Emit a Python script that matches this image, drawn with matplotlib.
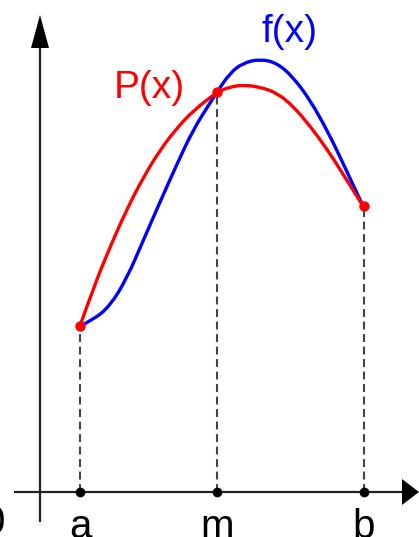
import numpy as np
import matplotlib.pyplot as plt
from matplotlib.path import Path
from matplotlib.patches import PathPatch

# node positions on the x axis and heights above it (picture units)
node_x = [80, 217, 364]
node_y = [166, 400, 286]
node_labels = ['a', 'm', 'b']

# f(x)
f_x = [80, 93, 110, 127, 143, 160, 177, 193, 210, 217, 230, 243, 260, 277, 293, 310, 327, 343, 363]
f_y = [166, 172, 186, 214, 251, 290, 328, 362, 389, 400, 419, 429, 433, 429, 415, 392, 362, 329, 286]

# P(x)
p_x = [80, 93, 110, 127, 143, 160, 177, 193, 217, 230, 243, 260, 277, 293, 310, 327, 343, 363]
p_y = [166, 203, 245, 283, 314, 342, 364, 381, 400, 405, 407, 405, 399, 386, 366, 343, 318, 286]

font = ['Liberation Sans Narrow', 'Liberation Sans', 'DejaVu Sans']


def smooth_path(xs, ys):
    # quadratic bezier pieces: read points are control points, midpoints are on the curve
    pts = list(zip(xs, ys))
    verts = [pts[0]]
    codes = [Path.MOVETO]
    for i in range(1, len(pts) - 2):
        mid = ((pts[i][0] + pts[i + 1][0]) / 2, (pts[i][1] + pts[i + 1][1]) / 2)
        verts += [pts[i], mid]
        codes += [Path.CURVE3, Path.CURVE3]
    verts += [pts[-2], pts[-1]]
    codes += [Path.CURVE3, Path.CURVE3]
    return Path(verts, codes)


fig = plt.figure(figsize=(4.19, 5.37), dpi=100)
ax = fig.add_axes([0, 0, 1, 1])
ax.set_xlim(0, 419)
ax.set_ylim(-45, 492)
ax.axis('off')

# axes with arrow heads
x0, x1 = 14, 402
yax = 40
ax.plot([x0, x1], [0, 0], color='#222222', lw=1.6, solid_capstyle='butt', zorder=2)
ax.fill([x1, 419, x1], [13, 0, -13], color='black', lw=0, zorder=2)
ax.plot([yax, yax], [-30, 444], color='#222222', lw=1.6, solid_capstyle='butt', zorder=2)
ax.fill([yax - 9, yax, yax + 9], [444, 477, 444], color='black', lw=0, zorder=2)

# dashed verticals
for xx, yy in zip(node_x, node_y):
    ax.plot([xx, xx], [0, yy], color='#444444', lw=1.5, dashes=(3.8, 2.2), zorder=1)

ax.add_patch(PathPatch(smooth_path(f_x, f_y), fill=False, edgecolor='#0000ff', lw=2.4, zorder=3))
ax.add_patch(PathPatch(smooth_path(p_x, p_y), fill=False, edgecolor='#ff0000', lw=2.4, zorder=4))
ax.plot(node_x, node_y, 'o', color='#ff0000', ms=6.5, zorder=5)
ax.plot(node_x, [0, 0, 0], 'o', color='black', ms=6, zorder=5)

for xx, lab in zip(node_x, node_labels):
    ax.text(xx, -16, lab, ha='center', va='top', fontsize=29, family=font)
ax.text(5, -12, '0', ha='right', va='top', fontsize=29, family=font)

ax.text(149, 404, 'P(x)', color='#ff0000', ha='center', va='center', fontsize=28, family=font)
ax.text(289, 460, 'f(x)', color='#0000ff', ha='center', va='center', fontsize=28, family=font)

fig.savefig('out.png', dpi=100)
